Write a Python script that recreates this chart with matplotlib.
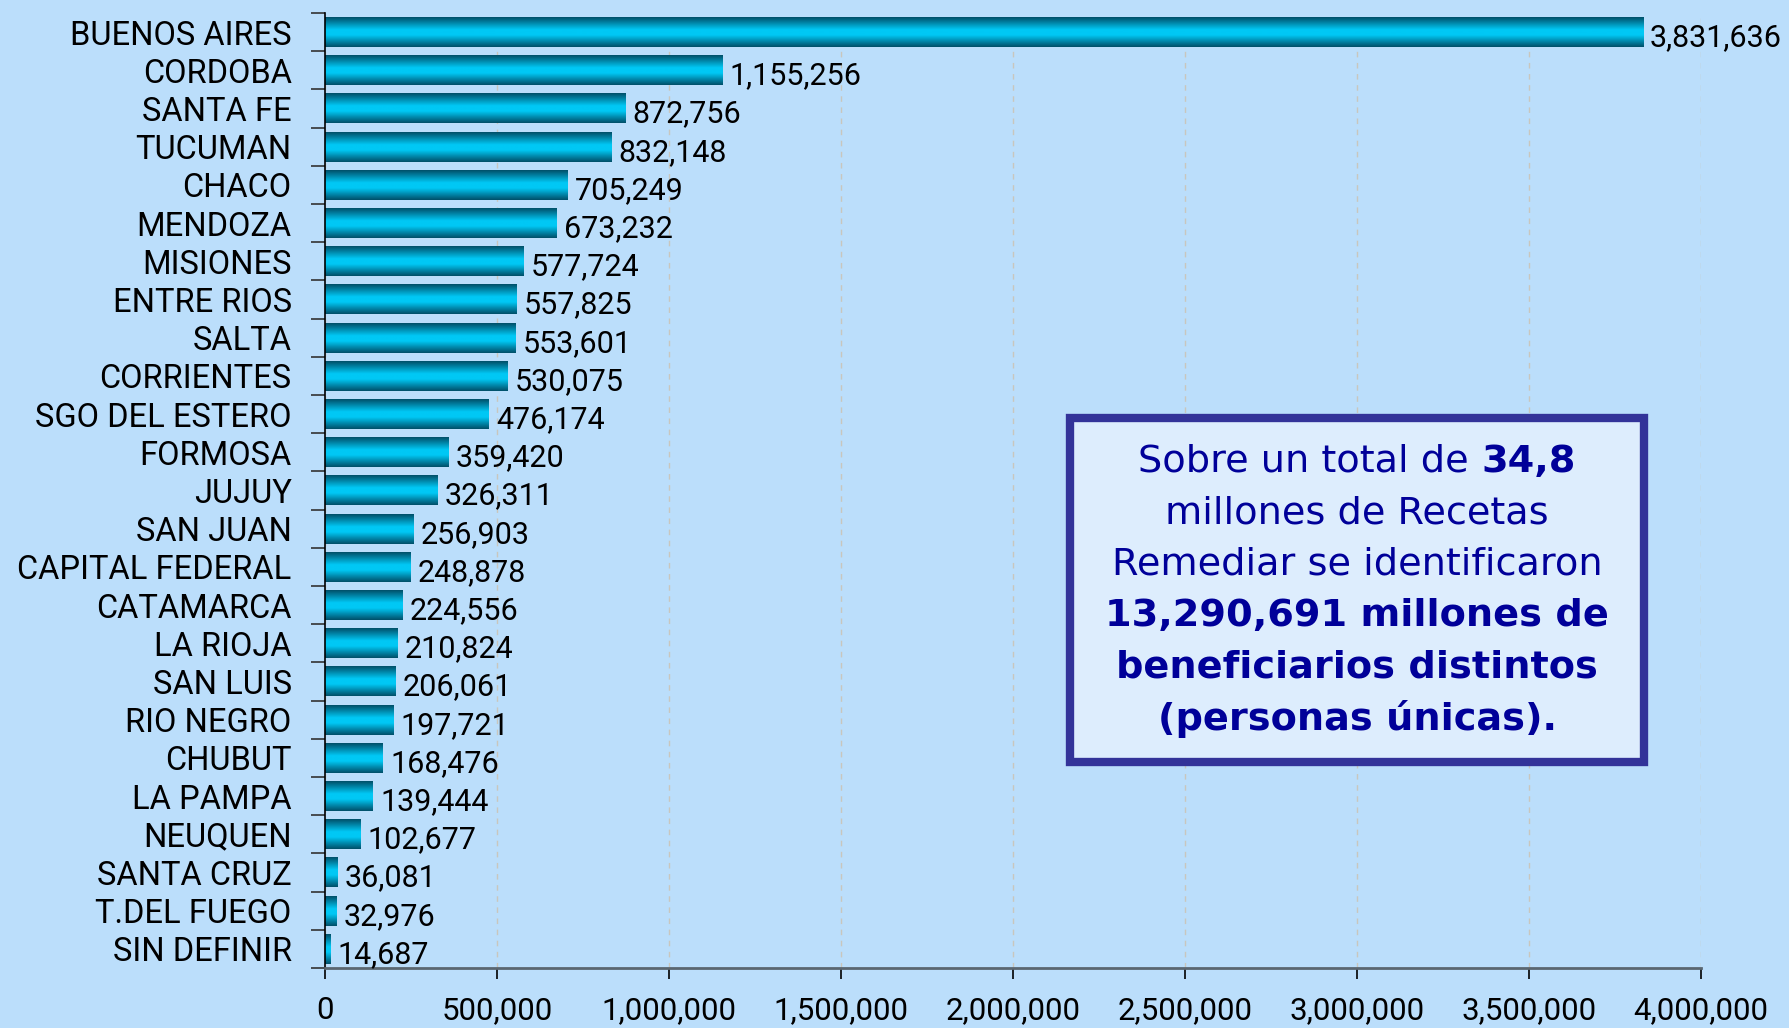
import matplotlib

matplotlib.use("Agg")
import matplotlib.pyplot as plt  # noqa: E402
import numpy as np  # noqa: E402
from matplotlib.colors import LinearSegmentedColormap  # noqa: E402
from matplotlib.patches import Rectangle  # noqa: E402
from matplotlib.ticker import FuncFormatter, MultipleLocator  # noqa: E402

provincias = [
    "BUENOS AIRES", "CORDOBA", "SANTA FE", "TUCUMAN", "CHACO", "MENDOZA",
    "MISIONES", "ENTRE RIOS", "SALTA", "CORRIENTES", "SGO DEL ESTERO",
    "FORMOSA", "JUJUY", "SAN JUAN", "CAPITAL FEDERAL", "CATAMARCA",
    "LA RIOJA", "SAN LUIS", "RIO NEGRO", "CHUBUT", "LA PAMPA", "NEUQUEN",
    "SANTA CRUZ", "T.DEL FUEGO", "SIN DEFINIR",
]
beneficiarios = [
    3831636, 1155256, 872756, 832148, 705249, 673232,
    577724, 557825, 553601, 530075, 476174,
    359420, 326311, 256903, 248878, 224556,
    210824, 206061, 197721, 168476, 139444, 102677,
    36081, 32976, 14687,
]
x_ticks = [0, 500000, 1000000, 1500000, 2000000, 2500000, 3000000, 3500000, 4000000]

BG = "#bbdefb"
LABEL_FONT = ["Roboto", "DejaVu Sans"]
BOX_FONT = ["DejaVu Sans"]
NAVY = "#000099"

_bar_cmap = LinearSegmentedColormap.from_list(
    "tubo", [(0.0, "#00506a"), (0.42, "#00c8f5"), (0.6, "#00c8f5"), (1.0, "#00506a")]
)

fig = plt.figure(figsize=(17.89, 10.28), dpi=100, facecolor=BG)
ax = fig.add_axes([0.1817, 0.0584, 0.7691, 0.929], facecolor=BG)

y = np.arange(len(provincias))
bars = ax.barh(y, beneficiarios, height=0.78, color="none", edgecolor="none")
grad = np.linspace(0, 1, 64).reshape(-1, 1)
for bar in bars:
    x0, y0 = bar.get_x(), bar.get_y()
    ax.imshow(grad, cmap=_bar_cmap, aspect="auto", interpolation="bilinear",
              extent=[x0, x0 + bar.get_width(), y0 + bar.get_height(), y0], zorder=2)

for yi, v in zip(y, beneficiarios):
    ax.annotate(f"{v:,}", xy=(v, yi), xytext=(5, -4), textcoords="offset points",
                ha="left", va="center", fontsize=22, family=LABEL_FONT, color="black")

ax.set_xlim(0, 4000000)
ax.set_ylim(len(provincias) - 0.5, -0.5)
ax.set_xticks(x_ticks)
ax.xaxis.set_major_formatter(FuncFormatter(lambda v, _: f"{int(v):,}"))
ax.tick_params(axis="x", length=8, width=1.2, color="black", pad=12, labelsize=22.5)
for lbl in ax.get_xticklabels():
    lbl.set_family(LABEL_FONT)

ax.set_yticks(y)
ax.set_yticklabels(provincias, fontsize=23.5, family=LABEL_FONT)
ax.tick_params(axis="y", which="major", length=0, pad=24)
ax.yaxis.set_minor_locator(MultipleLocator(1, offset=0.5))
ax.tick_params(axis="y", which="minor", length=10, width=1.2, color="#333333")

ax.grid(axis="x", linestyle=(0, (4, 4)), color="#c9c6bd", linewidth=1.0, zorder=0)
ax.set_axisbelow(True)
for side in ("top", "right"):
    ax.spines[side].set_visible(False)
ax.spines["left"].set_color("black")
ax.spines["left"].set_linewidth(1.2)
ax.spines["bottom"].set_color("#5a6670")
ax.spines["bottom"].set_linewidth(2)

# recuadro con el resumen
W, H = 1789, 1028
fig.patches.append(Rectangle((1070 / W, 1 - 762 / H), 574 / W, 344 / H, transform=fig.transFigure,
                             facecolor="#ddedfd", edgecolor="#333399", linewidth=6, zorder=5))

lineas = [
    [("Sobre un total de ", "normal"), ("34,8", "bold")],
    [("millones de Recetas", "normal")],
    [("Remediar se identificaron", "normal")],
    [("13,290,691 millones de", "bold")],
    [("beneficiarios distintos", "bold")],
    [("(personas únicas).", "bold")],
]
cx = 1357 / W
fig.canvas.draw()
renderer = fig.canvas.get_renderer()
for i, partes in enumerate(lineas):
    yy = 1 - (462 + i * 51.4) / H
    textos = [fig.text(0, yy, t, fontsize=27.5, fontweight=w, family=BOX_FONT, color=NAVY,
                       ha="left", va="center", zorder=6) for t, w in partes]
    anchos = [t.get_window_extent(renderer).width / fig.bbox.width for t in textos]
    x = cx - sum(anchos) / 2
    for t, a in zip(textos, anchos):
        t.set_x(x)
        x += a

fig.savefig("out.png", dpi=100, facecolor=BG)
